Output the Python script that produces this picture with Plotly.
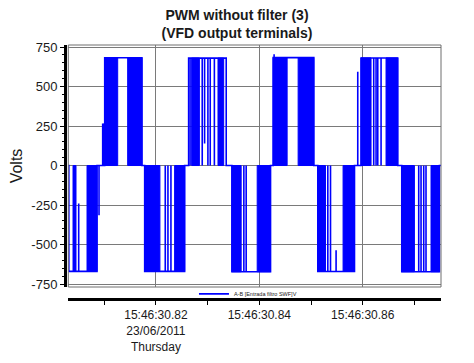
import plotly.graph_objects as go

# ---------------- data ----------------
chart_title = "<b>PWM without filter (3)</b><br><b>(VFD output terminals)</b>"
y_title = "Volts"
series_name = "A-B [Entrada filtro SWF]V"

# x is time in ms after 15:46:30.800 (23/06/2011)
x_tick_vals = [20, 40, 60]
x_tick_text = ["15:46:30.82<br>23/06/2011<br>Thursday", "15:46:30.84", "15:46:30.86"]
y_tick_vals = [750, 500, 250, 0, -250, -500, -750]
y_tick_text = ["750", "500", "250", "0", "-250", "-500", "-750"]

# half-cycle envelopes: the signal sits at env_level between start and end
env_start = [3.15, 10.09, 17.82, 26.32, 34.69, 42.67, 51.30, 59.67, 67.54]
env_end = [8.60, 17.29, 25.55, 33.59, 42.16, 50.53, 58.40, 66.76, 74.82]
env_level = [-670, 682, -670, 680, -672, 683, -671, 681, -672]

# dense switching regions (appear as solid blocks between 0 and the level)
dense_start = [3.96, 6.67, 10.09, 14.53, 17.82, 23.61, 26.90, 32.00, 34.69,
               39.58, 42.67, 47.50, 51.30, 56.19, 59.67, 64.50, 67.54, 73.20]
dense_end = [4.54, 8.60, 12.60, 17.29, 20.77, 25.55, 28.40, 33.10, 36.48,
             42.16, 45.37, 50.53, 52.79, 58.40, 61.60, 66.76, 69.99, 74.82]
dense_level = [-670, -670, 682, 682, -670, -670, 680, 680, -672,
               -672, 683, 683, -671, -671, 681, 681, -672, -672]

# isolated switching pulses (vertical strokes)
pulse_t = [5.06, 8.99, 9.70, 9.90, 21.80, 22.32, 22.90, 26.60, 28.95, 29.41,
           30.05, 30.50, 31.30, 37.00, 37.45, 42.85, 53.24, 53.76, 54.84, 59.03,
           62.12, 62.57, 62.90, 63.54, 70.82, 71.27, 71.79, 72.23]
pulse_from = [-670, 0, 0, 0, -670, -670, -670, 680, 680, 680,
              680, 680, 680, -672, -672, 0, -671, -671, -671, 0,
              681, 681, 681, 681, -672, -672, -672, -672]
pulse_to = [-240, -315, 266, 266, 0, 0, 0, 0, 0, 139,
            0, 0, 0, 0, 0, 705, 0, 0, -536, 593,
            0, 0, 0, 0, 0, 0, 0, 0]

x_range = [3.05, 75.13]
y_range = [-769, 763]

# ---------------- build traces ----------------
BLUE = "#0000ff"
lx, ly = [x_range[0]], [0]
for s, e, lv in zip(env_start, env_end, env_level):
    lx += [s, s, e, e]
    ly += [0, lv, lv, 0]
lx.append(x_range[1])
ly.append(0)
for t, a, b in zip(pulse_t, pulse_from, pulse_to):
    lx += [None, t, t]
    ly += [None, a, b]

fx, fy = [], []
for s, e, lv in zip(dense_start, dense_end, dense_level):
    fx += [s, s, e, e, s, None]
    fy += [0, lv, lv, 0, 0, None]

fig = go.Figure()
fig.add_trace(go.Scatter(x=fx, y=fy, mode="lines", fill="toself",
                         fillcolor=BLUE, line=dict(color=BLUE, width=1),
                         showlegend=False, hoverinfo="skip"))
fig.add_trace(go.Scatter(x=lx, y=ly, mode="lines", name=series_name,
                         line=dict(color=BLUE, width=1.6)))

# the page body adds an 8px margin, so the figure is 16px smaller
W, H = 458, 347
FONT = "Arial, Liberation Sans, sans-serif"
fig.update_layout(
    width=W, height=H,
    margin=dict(l=57, r=25, t=37, b=56, autoexpand=False),
    paper_bgcolor="white", plot_bgcolor="white",
    font=dict(family=FONT, size=13, color="#1a1a1a"),
    title=dict(text=chart_title, x=0.5, xref="container", xanchor="center",
               y=1 - 12 / H, yref="container", yanchor="middle",
               automargin=False,
               font=dict(family=FONT, size=14, color="#1a1a1a")),
    xaxis=dict(domain=[0.0088, 1], range=x_range, anchor="free", position=0,
               automargin=False,
               showline=True, linecolor="black", linewidth=3,
               ticks="outside", ticklen=4, tickcolor="black", tickwidth=1,
               tickmode="array", tickvals=x_tick_vals, ticktext=x_tick_text,
               tickfont=dict(size=12),
               showgrid=True, gridcolor="#7a7a7a", gridwidth=1, zeroline=False,
               minor=dict(ticks="outside", ticklen=4, tickcolor="black",
                          tick0=0, dtick=10, showgrid=False)),
    yaxis=dict(domain=[0.0472, 1], range=y_range, anchor="free", position=0,
               automargin=False,
               showline=True, linecolor="black", linewidth=3,
               ticks="outside", ticklen=4, tickcolor="black", tickwidth=1,
               tickmode="array", tickvals=y_tick_vals, ticktext=y_tick_text,
               showgrid=True, gridcolor="#7a7a7a", gridwidth=1, zeroline=False,
               title=dict(text=y_title, standoff=3),
               minor=dict(ticks="outside", ticklen=2, tickcolor="black",
                          tick0=0, dtick=50, showgrid=False)),
    legend=dict(x=0.343, y=0.02, xanchor="left", yanchor="middle",
                orientation="h", bgcolor="rgba(0,0,0,0)",
                font=dict(size=5.5, color="#1a1a1a")),
    shapes=[dict(type="rect", xref="x domain", yref="y domain",
                 x0=0, x1=1, y0=0, y1=1,
                 line=dict(color="#6e6e6e", width=1), layer="above")],
)

fig.write_html("out.html")
